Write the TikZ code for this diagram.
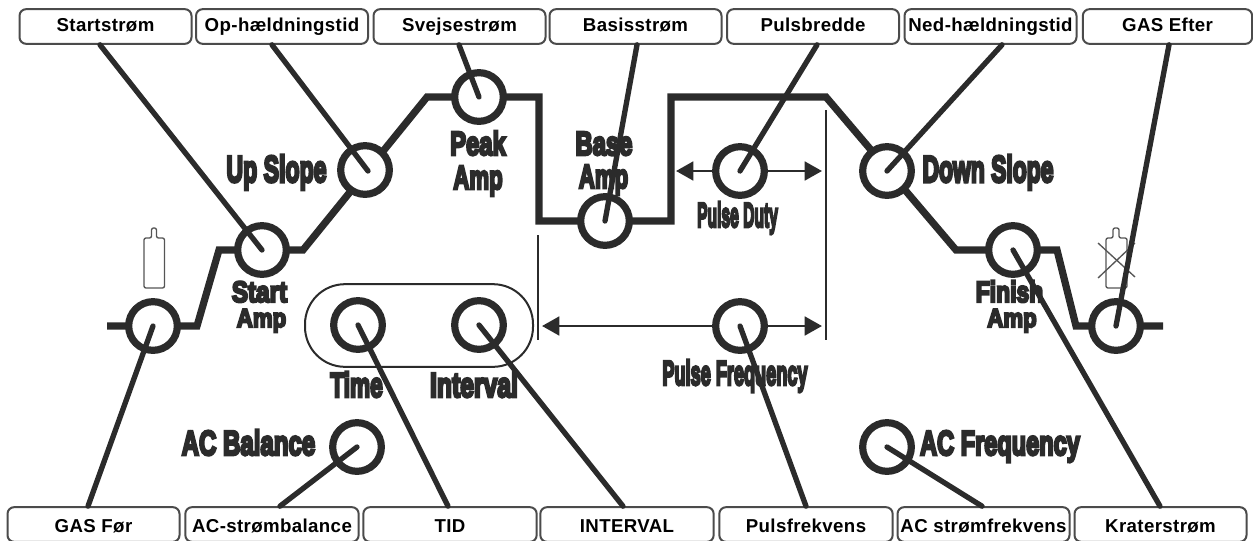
\documentclass[tikz,border=0pt]{standalone}
\usepackage{fontspec}
\usepackage{graphicx}
\usetikzlibrary{arrows.meta}
\setmainfont{Liberation Sans}
\newfontfamily\heavy[FakeBold=8]{Liberation Sans Bold}
\definecolor{ink}{HTML}{2B2B2B}
\tikzset{
  px/.style={x=0.75pt,y=-0.75pt},
  labelbox/.style={draw=ink!85,line width=1.5pt,rounded corners=5pt,fill=white,minimum height=26pt,inner sep=0pt,font=\fontsize{14}{16}\selectfont\bfseries\addfontfeatures{LetterSpace=2},text=black,text height=10.2pt,text depth=2pt},
  lowbox/.style={labelbox,text height=12.5pt,text depth=1pt},
  knob/.style={circle,draw=ink,line width=5.4pt,fill=white,minimum size=36.5pt,inner sep=0pt},
  wave/.style={draw=ink,line width=5.4pt,line join=miter},
  needle/.style={draw=ink,line width=4pt,line cap=round},
  thinv/.style={draw=ink,line width=2.2pt},
  dim/.style={draw=ink,line width=2.2pt,{Triangle[length=13pt,width=14pt]}-{Triangle[length=13pt,width=14pt]}},
  bottle/.style={draw=ink!80,line width=1pt},
  capsule/.style={draw=ink,line width=1.5pt,rounded corners=30pt,minimum width=171pt,minimum height=62pt,inner sep=0pt},
  heavylabel/.style={inner sep=0pt,anchor=base},
}
\newcommand{\hv}[3]{\scalebox{#1}[#2]{\heavy\fontsize{17}{17}\selectfont\textcolor{ink}{#3}}}
\begin{document}
\begin{tikzpicture}[px]
\useasboundingbox (0,0) rectangle (1253,540);
% waveform
\coordinate (w0) at (107,326);
\coordinate (w1) at (197,326);
\coordinate (w2) at (219,250);
\coordinate (w3) at (303,250);
\coordinate (w4) at (427,97);
\coordinate (w5) at (539,97);
\coordinate (w6) at (539,221);
\coordinate (w7) at (671,221);
\coordinate (w8) at (671,97);
\coordinate (w9) at (826,97);
\coordinate (w10) at (956,250);
\coordinate (w11) at (1057,250);
\coordinate (w12) at (1076,326);
\coordinate (w13) at (1163,326);
\draw[wave] (w0)--(w1)--(w2)--(w3)--(w4)--(w5)--(w6)--(w7)--(w8)--(w9)--(w10)--(w11)--(w12)--(w13);
% capsule
\node[capsule] (cap) at (419,325.5) {};
% bottles
\draw[bottle,rounded corners=1.5pt] (144,288) -- (144,238) -- (151.5,238) -- (151.5,228) -- (156.5,228) -- (156.5,238) -- (164.5,238) -- (164.5,288) -- cycle;
\draw[bottle,rounded corners=1.5pt] (1106,288) -- (1106,238) -- (1113,238) -- (1113,228) -- (1119,228) -- (1119,238) -- (1127,238) -- (1127,288) -- cycle;
\draw[bottle] (1098,243) -- (1135,277);
\draw[bottle] (1098,278) -- (1135,243);
% guide lines
\coordinate (g1a) at (538,235);\coordinate (g1b) at (538,340);
\coordinate (g2a) at (826,110);\coordinate (g2b) at (826,340);
\draw[thinv] (g1a)--(g1b);
\draw[thinv] (g2a)--(g2b);
% dimension arrows
\coordinate (a1) at (676,171);\coordinate (a2) at (822,171);
\coordinate (a3) at (542,326);\coordinate (a4) at (822,326);
\draw[dim] (a1)--(a2);
\draw[dim] (a3)--(a4);
% printed labels
\node[heavylabel] (tUp) at (276.5,182) {\hv{1.02}{1.65}{Up Slope}};
\node[heavylabel] (tPeak) at (478,155) {\hv{1.05}{1.47}{Peak}};
\node[heavylabel] (tPeakB) at (478,189) {\hv{0.98}{1.47}{Amp}};
\node[heavylabel] (tBase) at (604,155) {\hv{1.05}{1.47}{Base}};
\node[heavylabel] (tBaseB) at (603.5,188) {\hv{0.98}{1.47}{Amp}};
\node[heavylabel] (tDuty) at (737.5,227) {\hv{0.69}{1.53}{Pulse Duty}};
\node[heavylabel] (tDown) at (988,182) {\hv{1.01}{1.65}{Down Slope}};
\node[heavylabel] (tStart) at (259.5,302) {\hv{1.07}{1.3}{Start}};
\node[heavylabel] (tStartB) at (261.5,327) {\hv{0.98}{1.15}{Amp}};
\node[heavylabel] (tFin) at (1009.5,302) {\hv{1.01}{1.3}{Finish}};
\node[heavylabel] (tFinB) at (1012,327) {\hv{0.98}{1.15}{Amp}};
\node[heavylabel] (tTime) at (356.5,397) {\hv{1.0}{1.53}{Time}};
\node[heavylabel] (tInt) at (474,397) {\hv{1.09}{1.53}{Interval}};
\node[heavylabel] (tFreq) at (735,385) {\hv{0.8}{1.53}{Pulse Frequency}};
\node[heavylabel] (tBal) at (248.5,455) {\hv{1.06}{1.53}{AC Balance}};
\node[heavylabel] (tAcf) at (1000,455) {\hv{1.04}{1.53}{AC Frequency}};
% knobs
\node[knob] (kGasF) at (153,326) {};
\node[knob] (kStart) at (262,250) {};
\node[knob] (kUp) at (365,170) {};
\node[knob] (kPeak) at (479,97) {};
\node[knob] (kBase) at (605,221) {};
\node[knob] (kDuty) at (740,171) {};
\node[knob] (kDown) at (887,171) {};
\node[knob] (kFin) at (1013,250) {};
\node[knob] (kGasE) at (1116,326) {};
\node[knob] (kTime) at (358,325) {};
\node[knob] (kInt) at (479,325) {};
\node[knob] (kFreq) at (740,326) {};
\node[knob] (kBal) at (357,447) {};
\node[knob] (kAcf) at (887,447) {};
% top boxes
\node[labelbox,minimum width=129pt] (b1) at (105.5,26.5) {Startstrøm};
\node[labelbox,minimum width=129pt] (b2) at (282,26.5) {Op-hældningstid};
\node[labelbox,minimum width=129pt] (b3) at (459.5,26.5) {Svejsestrøm};
\node[labelbox,minimum width=129pt] (b4) at (635.5,26.5) {Basisstrøm};
\node[labelbox,minimum width=129pt] (b5) at (813,26.5) {Pulsbredde};
\node[labelbox,minimum width=129pt] (b6) at (990.5,26.5) {Ned-hældningstid};
\node[labelbox,minimum width=127pt] (b7) at (1167.5,26.5) {GAS Efter};
% bottom boxes
\node[lowbox,minimum width=129pt] (c1) at (93.5,524.5) {GAS Før};
\node[lowbox,minimum width=130pt] (c2) at (272,524.5) {AC-strømbalance};
\node[lowbox,minimum width=130pt] (c3) at (450,524.5) {TID};
\node[lowbox,minimum width=130pt] (c4) at (627,524.5) {INTERVAL};
\node[lowbox,minimum width=130pt] (c5) at (806,524.5) {Pulsfrekvens};
\node[lowbox,minimum width=129pt] (c6) at (983.5,524.5) {AC strømfrekvens};
\node[lowbox,minimum width=129pt] (c7) at (1160.5,524.5) {Kraterstrøm};
% needles
\draw[needle] (b1.south -| 100,0) -- (kStart.center);
\draw[needle] (b2.south -| 272,0) -- ([shift={(3,1)}]kUp.center);
\draw[needle] (b3.south -| 459,0) -- (kPeak.center);
\draw[needle] (b4.south -| 637,0) -- (kBase.center);
\draw[needle] (b5.south -| 817,0) -- (kDuty.center);
\draw[needle] (b6.south -| 1002,0) -- (kDown.center);
\draw[needle] (b7.south -| 1169,0) -- (kGasE.center);
\draw[needle] (c1.north -| 88,0) -- (kGasF.center);
\draw[needle] (c2.north -| 280,0) -- (kBal.center);
\draw[needle] (c3.north -| 448,0) -- (kTime.center);
\draw[needle] (c4.north -| 623,0) -- (kInt.center);
\draw[needle] (c5.north -| 806,0) -- (kFreq.center);
\draw[needle] (c6.north -| 982,0) -- (kAcf.center);
\draw[needle] (c7.north -| 1160,0) -- (kFin.center);
\end{tikzpicture}
\end{document}
